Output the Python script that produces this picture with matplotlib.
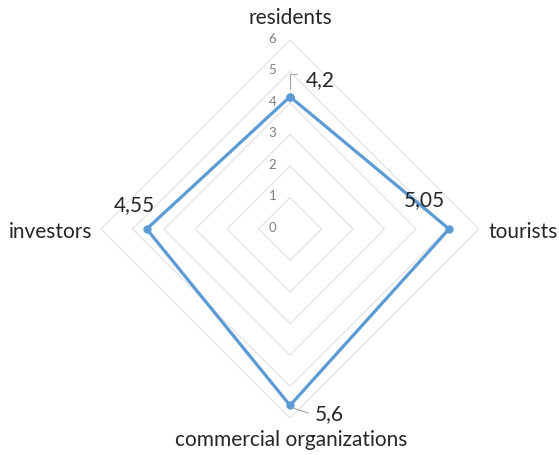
import numpy as np
import matplotlib
matplotlib.use('Agg')
import matplotlib.pyplot as plt

# categories clockwise from the top
categories = ['residents', 'tourists', 'commercial organizations', 'investors']
values = [4.2, 5.05, 5.6, 4.55]
levels = [1, 2, 3, 4, 5, 6]
tick_labels = ['0', '1', '2', '3', '4', '5', '6']

plt.rcParams['font.family'] = ['Lato', 'DejaVu Sans']

fig = plt.figure(figsize=(5.59, 4.55), dpi=100)
ax = fig.add_axes([0.1807, 0.0813, 0.6762, 0.8308], projection='polar')
ax.set_theta_offset(np.pi / 2)
ax.set_theta_direction(-1)
ax.set_ylim(0, 6)
ax.grid(False)
ax.spines['polar'].set_visible(False)
ax.set_xticks([])
ax.set_yticks([])

angles = np.linspace(0, 2 * np.pi, len(categories), endpoint=False)
closed = np.append(angles, angles[0])

# diamond gridlines
for lv in levels:
    ax.plot(closed, [lv] * len(closed), color='#e3e3e3', lw=0.9, zorder=1)

# axis tick labels along the top spoke
for i, t in enumerate(tick_labels):
    ax.annotate(t, xy=(0, i), xytext=(-10, 1), textcoords='offset points',
                ha='right', va='center', fontsize=9.5, color='#7f7f7f')

# data series
vals = np.append(values, values[0])
ax.plot(closed, vals, color='#5b9bd5', lw=2.3, marker='o', ms=5, zorder=3)

def fmt(v):
    return f'{v:g}'.replace('.', ',')

# data labels
label_offsets = [(11, 12), (-18, 21), (18, -6), (-9, 17)]
label_ha = ['left', 'center', 'left', 'center']
for a, v, off, ha in zip(angles, values, label_offsets, label_ha):
    ax.annotate(fmt(v), xy=(a, v), xytext=off, textcoords='offset points',
                ha=ha, va='center', fontsize=15, color='#262626', zorder=4)

# leader lines for the top and bottom labels
ax.annotate('', xy=(angles[0], values[0] + 0.15), xytext=(7, 13), textcoords='offset points',
            arrowprops=dict(arrowstyle='-', color='#a6a6a6', lw=0.8,
                            connectionstyle='angle,angleA=0,angleB=90,rad=0'))
ax.annotate('', xy=(angles[2], values[2] + 0.05), xytext=(15, -5), textcoords='offset points',
            arrowprops=dict(arrowstyle='-', color='#a6a6a6', lw=0.8))

# category labels
cat_pos = [(0, 16, 'center', 'center'), (7, -2, 'left', 'center'),
           (1, -16, 'center', 'center'), (-6, -2, 'right', 'center')]
for a, name, (dx, dy, ha, va) in zip(angles, categories, cat_pos):
    ax.annotate(name, xy=(a, 6), xytext=(dx, dy), textcoords='offset points',
                ha=ha, va=va, fontsize=15, color='#262626')

fig.savefig('out.png', dpi=100)
